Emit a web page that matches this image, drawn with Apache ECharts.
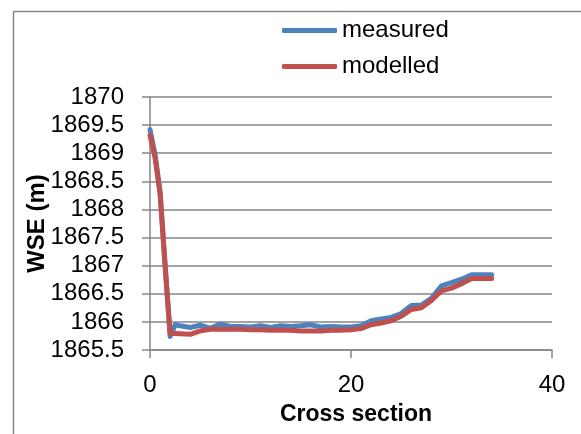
<!DOCTYPE html>
<html>
<head>
<meta charset="utf-8">
<script src="https://cdn.jsdelivr.net/npm/echarts@6/dist/echarts.min.js"></script>
<style>html,body{margin:0;padding:0;background:#fff}#c{width:581px;height:434px}</style>
</head>
<body>
<div id="c"></div>
<script>
var measuredX = [0, 0.5, 1, 1.5, 2, 2.5, 3, 4, 5, 6, 7, 8, 9, 10, 11, 12, 13, 14, 15, 16, 17, 18, 19, 20, 21, 22, 23, 24, 25, 26, 27, 28, 29, 30, 31, 32, 33, 34];
var measuredY = [1869.42, 1868.98, 1868.33, 1867.03, 1865.74, 1865.95, 1865.93, 1865.9, 1865.94, 1865.89, 1865.96, 1865.92, 1865.92, 1865.91, 1865.93, 1865.9, 1865.93, 1865.92, 1865.93, 1865.95, 1865.91, 1865.92, 1865.91, 1865.91, 1865.93, 1866.02, 1866.05, 1866.08, 1866.15, 1866.29, 1866.3, 1866.42, 1866.64, 1866.7, 1866.76, 1866.84, 1866.84, 1866.84];
var modelledX = [0, 0.5, 1, 1.5, 2, 3, 4, 5, 6, 7, 8, 9, 10, 11, 12, 13, 14, 15, 16, 17, 18, 19, 20, 21, 22, 23, 24, 25, 26, 27, 28, 29, 30, 31, 32, 33, 34];
var modelledY = [1869.32, 1868.92, 1868.28, 1867.0, 1865.8, 1865.79, 1865.78, 1865.84, 1865.87, 1865.87, 1865.87, 1865.87, 1865.86, 1865.86, 1865.85, 1865.85, 1865.85, 1865.84, 1865.84, 1865.84, 1865.85, 1865.85, 1865.86, 1865.88, 1865.95, 1865.98, 1866.02, 1866.1, 1866.22, 1866.25, 1866.38, 1866.55, 1866.6, 1866.68, 1866.77, 1866.77, 1866.77];
var seriesNames = ['measured', 'modelled'];
var xTicks = { min: 0, max: 40, interval: 20 };
var yTicks = { min: 1865.5, max: 1870, interval: 0.5 };

function pairs(xs, ys) { return xs.map(function (x, i) { return [x, ys[i]]; }); }

var FONT = 'Liberation Sans';
var GRID = '#868686';
var chart = echarts.init(document.getElementById('c'), null, { renderer: 'canvas' });
chart.setOption({
  animation: false,
  backgroundColor: '#fff',
  textStyle: { fontFamily: FONT },
  graphic: [
    { type: 'line', shape: { x1: 13.5, y1: 11.5, x2: 13.5, y2: 434 }, style: { stroke: GRID, lineWidth: 1.5 } },
    { type: 'line', shape: { x1: 13.5, y1: 11.5, x2: 581, y2: 11.5 }, style: { stroke: GRID, lineWidth: 1.5 } }
  ],
  legend: {
    orient: 'vertical',
    left: 277,
    top: 12,
    itemWidth: 55,
    itemHeight: 5,
    itemGap: 9,
    icon: 'roundRect',
    textStyle: { fontFamily: FONT, fontSize: 24, color: '#000', lineHeight: 27 },
    data: seriesNames
  },
  grid: { left: 150, right: 29, top: 97, bottom: 84, containLabel: false },
  xAxis: {
    type: 'value',
    min: xTicks.min, max: xTicks.max, interval: xTicks.interval,
    name: 'Cross section',
    nameLocation: 'middle',
    nameGap: 53,
    nameMoveOverlap: false,
    nameTextStyle: { fontFamily: FONT, fontSize: 23, fontWeight: 'bold', color: '#000', padding: [0, 0, 0, 10] },
    axisLine: { show: true, lineStyle: { color: GRID, width: 1.5 } },
    axisTick: { show: true, inside: false, length: 8, lineStyle: { color: GRID, width: 1.5 } },
    axisLabel: { fontFamily: FONT, fontSize: 24, color: '#000', margin: 23 },
    splitLine: { show: false }
  },
  yAxis: {
    type: 'value',
    min: yTicks.min, max: yTicks.max, interval: yTicks.interval,
    name: 'WSE (m)',
    nameLocation: 'middle',
    nameGap: 101,
    nameMoveOverlap: false,
    nameRotate: 90,
    nameTextStyle: { fontFamily: FONT, fontSize: 24, fontWeight: 'bold', color: '#000' },
    axisLine: { show: true, onZero: false, lineStyle: { color: GRID, width: 1.5 } },
    axisTick: { show: true, inside: false, length: 8, lineStyle: { color: GRID, width: 1.5 } },
    axisLabel: { fontFamily: FONT, fontSize: 24, color: '#000', margin: 26, formatter: function (v) { return String(v); } },
    splitLine: { show: true, lineStyle: { color: GRID, width: 1.5 } }
  },
  series: [
    {
      name: seriesNames[0], type: 'line', data: pairs(measuredX, measuredY),
      showSymbol: false, symbol: 'none', smooth: false,
      itemStyle: { color: '#4F81BD' },
      lineStyle: { color: '#4F81BD', width: 5, cap: 'round', join: 'round' }
    },
    {
      name: seriesNames[1], type: 'line', data: pairs(modelledX, modelledY),
      showSymbol: false, symbol: 'none', smooth: false,
      itemStyle: { color: '#C0504D' },
      lineStyle: { color: '#C0504D', width: 5, cap: 'round', join: 'round' }
    }
  ]
});
</script>
</body>
</html>
